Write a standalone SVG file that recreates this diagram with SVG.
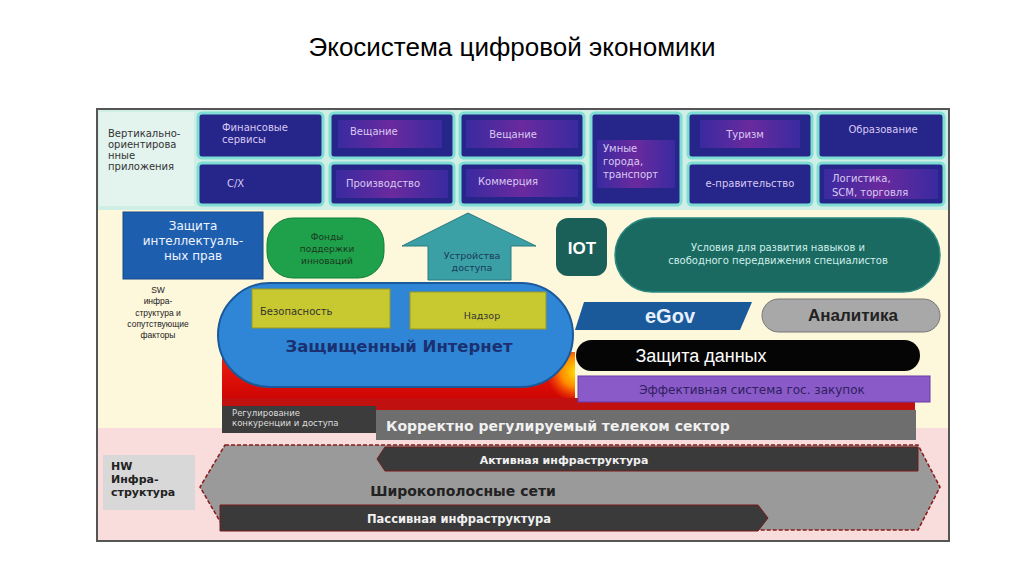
<svg xmlns="http://www.w3.org/2000/svg" width="1024" height="574" viewBox="0 0 1024 574">
<defs>
<style>
text{font-family:"Liberation Sans","DejaVu Sans",sans-serif}
.dv{font-family:"DejaVu Sans","Liberation Sans",sans-serif}
.tile{fill:#25258a;stroke:#7fded4;stroke-width:3}
.inner{fill:url(#purp)}
.tt{fill:#d9c9f2;font-size:10px;font-family:"DejaVu Sans",sans-serif}
.lbl{fill:#333;font-size:10px;font-family:"DejaVu Sans",sans-serif}
.w{fill:#fff}
</style>
<linearGradient id="purp" x1="0" y1="0" x2="1" y2="0">
<stop offset="0" stop-color="#3a2aa0"/><stop offset="0.5" stop-color="#6a2a9e"/><stop offset="1" stop-color="#3a2aa0"/>
</linearGradient>
<linearGradient id="fire" x1="0" y1="0" x2="0" y2="1">
<stop offset="0" stop-color="#f02010"/><stop offset="1" stop-color="#c80000"/>
</linearGradient>
<radialGradient id="glow" gradientUnits="userSpaceOnUse" cx="576" cy="372" r="30">
<stop offset="0" stop-color="#ffe000"/><stop offset="0.5" stop-color="#ff8a00"/><stop offset="1" stop-color="#ff5000" stop-opacity="0"/>
</radialGradient>
</defs>
<rect width="1024" height="574" fill="#fff"/>
<text x="512" y="56" text-anchor="middle" font-size="26" fill="#000">Экосистема цифровой экономики</text>

<g id="frame">
<rect x="97" y="109" width="852" height="432" fill="#fdf7dc" stroke="#555" stroke-width="2"/>
<rect x="98" y="110" width="850" height="100" fill="#cfeee6"/>
<rect x="98" y="428" width="850" height="112" fill="#f9dcdc"/>
</g>

<g id="vertical-label">
<rect x="99" y="112" width="95" height="94" fill="#e3f4ee"/>
<text class="lbl"><tspan x="108" y="137">Вертикально-</tspan><tspan x="108" y="148">ориентирова</tspan><tspan x="108" y="159">нные</tspan><tspan x="108" y="170">приложения</tspan></text>
</g>

<g id="tile-fin"><rect class="tile" x="198" y="113" width="125" height="45" rx="4"/><text class="tt" x="222" y="131">Финансовые<tspan x="222" y="143">сервисы</tspan></text></g>
<g id="tile-sh"><rect class="tile" x="198" y="163" width="125" height="42" rx="4"/><text class="tt" x="227" y="187">С/Х</text></g>
<g id="tile-vesh1"><rect class="tile" x="330" y="113" width="124" height="45" rx="4"/><rect class="inner" x="338" y="120" width="104" height="28"/><text class="tt" x="350" y="135">Вещание</text></g>
<g id="tile-prod"><rect class="tile" x="330" y="163" width="124" height="42" rx="4"/><rect class="inner" x="336" y="170" width="112" height="28"/><text class="tt" x="383" y="187" text-anchor="middle">Производство</text></g>
<g id="tile-vesh2"><rect class="tile" x="460" y="113" width="124" height="45" rx="4"/><rect class="inner" x="466" y="120" width="112" height="28"/><text class="tt" x="513" y="138" text-anchor="middle">Вещание</text></g>
<g id="tile-comm"><rect class="tile" x="460" y="163" width="124" height="42" rx="4"/><rect class="inner" x="466" y="169" width="112" height="28"/><text class="tt" x="478" y="185">Коммерция</text></g>
<g id="tile-smart"><rect class="tile" x="591" y="113" width="90" height="92" rx="4"/><rect class="inner" x="597" y="140" width="78" height="48"/><text class="tt" x="603" y="152">Умные<tspan x="603" y="165">города,</tspan><tspan x="603" y="178">транспорт</tspan></text></g>
<g id="tile-tour"><rect class="tile" x="688" y="113" width="124" height="45" rx="4"/><rect class="inner" x="700" y="120" width="100" height="28"/><text class="tt" x="745" y="138" text-anchor="middle">Туризм</text></g>
<g id="tile-egov"><rect class="tile" x="688" y="163" width="124" height="42" rx="4"/><text class="tt" x="750" y="187" text-anchor="middle">е-правительство</text></g>
<g id="tile-edu"><rect class="tile" x="818" y="113" width="126" height="45" rx="4"/><text class="tt" x="883" y="133" text-anchor="middle">Образование</text></g>
<g id="tile-log"><rect class="tile" x="818" y="163" width="126" height="42" rx="4"/><rect class="inner" x="824" y="169" width="114" height="30"/><text class="tt" x="832" y="182">Логистика,<tspan x="832" y="196">SCM, торговля</tspan></text></g>

<g id="sw-label"><text font-size="8.5" fill="#222" text-anchor="middle"><tspan x="158" y="293">SW</tspan><tspan x="158" y="304">инфра-</tspan><tspan x="158" y="316">структура и</tspan><tspan x="158" y="327">сопутствующие</tspan><tspan x="158" y="338">факторы</tspan></text></g>

<g id="ip"><rect x="123" y="212" width="140" height="67" fill="#1d5fae" stroke="#164a88"/><text class="dv" fill="#f0f4ff" font-size="12" text-anchor="middle"><tspan x="193" y="230">Защита</tspan><tspan x="193" y="245">интеллектуаль-</tspan><tspan x="193" y="260">ных прав</tspan></text></g>
<g id="funds"><rect x="267" y="218" width="117" height="60" rx="26" fill="#1fa04a" stroke="#138038"/><text class="dv" font-size="9" fill="#1a3a20" text-anchor="middle"><tspan x="327" y="240">Фонды</tspan><tspan x="327" y="252">поддержки</tspan><tspan x="327" y="264">инноваций</tspan></text></g>
<g id="devices"><path d="M468,213 L536,246 L511,246 L511,280 L428,280 L428,246 L402,246 Z" fill="#3aa0a6" stroke="#2a7a80"/><text class="dv" font-size="9.5" fill="#1a3a5a" text-anchor="middle"><tspan x="472" y="259">Устройства</tspan><tspan x="472" y="271">доступа</tspan></text></g>
<g id="iot"><rect x="556" y="218" width="51" height="58" rx="12" fill="#1a6058"/><text x="582" y="254" text-anchor="middle" font-size="17" font-weight="bold" fill="#fff">IOT</text></g>
<g id="skills"><rect x="615" y="218" width="325" height="74" rx="37" fill="#1a6a62" stroke="#2a8a80" stroke-width="1.5"/><text class="dv" font-size="10" fill="#cfeee8" text-anchor="middle"><tspan x="778" y="251">Условия для развития навыков и</tspan><tspan x="778" y="264">свободного передвижения специалистов</tspan></text></g>

<g id="fire-base"><rect x="222" y="352" width="353" height="55" fill="url(#fire)"/><rect x="222" y="352" width="353" height="55" fill="url(#glow)"/></g>
<g id="internet"><rect x="218" y="283" width="355" height="104" rx="52" fill="#2f86d6" stroke="#1a5a9a" stroke-width="2"/>
<rect x="252" y="289" width="138" height="39" fill="#c8c830" stroke="#9a9a20"/><text class="dv" x="260" y="315" font-size="10" fill="#333">Безопасность</text>
<rect x="410" y="292" width="136" height="37" fill="#c8c830" stroke="#9a9a20"/><text class="dv" x="482" y="319" font-size="9.5" fill="#333" text-anchor="middle">Надзор</text>
<text class="dv" x="399" y="352" text-anchor="middle" font-size="16.5" font-weight="bold" fill="#1a3070">Защищенный Интернет</text></g>

<g id="egov"><path d="M584,302 L752,302 L740,330 L575,330 Z" fill="#1a5a9a"/><text x="670" y="323" text-anchor="middle" font-size="20" font-weight="bold" fill="#e8f0ff">eGov</text></g>
<g id="analytics"><rect x="762" y="299" width="178" height="33" rx="16.5" fill="#a8a8a8" stroke="#777"/><text x="853" y="321" text-anchor="middle" font-size="17" font-weight="bold" fill="#222">Аналитика</text></g>
<g id="data"><rect x="576" y="340" width="344" height="31" rx="15.5" fill="#050505"/><text x="701" y="362" text-anchor="middle" font-size="18" fill="#fff">Защита данных</text></g>
<g id="procure"><rect x="222" y="398" width="693" height="12" fill="#c01010"/><rect x="578" y="376" width="352" height="26" fill="#8a5ac8" stroke="#6a3aa8"/><text class="dv" x="752" y="394" text-anchor="middle" font-size="12" fill="#302060">Эффективная система гос. закупок</text></g>

<g id="telecom"><rect x="376" y="410" width="540" height="30" fill="#6e6e6e"/><text class="dv" x="386" y="431" font-size="14" font-weight="bold" fill="#f0f0f0">Корректно регулируемый телеком сектор</text></g>
<g id="regulation"><rect x="222" y="406" width="154" height="27" fill="#3c3c3c"/><text class="dv" font-size="8.5" fill="#ddd"><tspan x="232" y="416">Регулирование</tspan><tspan x="232" y="426">конкуренции и доступа</tspan></text></g>

<g id="hw-label"><rect x="103" y="455" width="92" height="55" fill="#d8d8d8"/><text class="dv" font-size="11" font-weight="bold" fill="#222"><tspan x="111" y="470">HW</tspan><tspan x="111" y="483">Инфра-</tspan><tspan x="111" y="496">структура</tspan></text></g>

<g id="broadband"><path d="M225,445 L918,445 L940,487 L918,530 L225,530 L200,487 Z" fill="#9a9a9a" stroke="#8a1a1a" stroke-width="1.5" stroke-dasharray="4,2"/>
<text class="dv" x="463" y="496" text-anchor="middle" font-size="14" font-weight="bold" fill="#222">Широкополосные сети</text></g>
<g id="active"><path d="M385,447 L918,447 L918,471 L385,471 L377,459 Z" fill="#3a3a3a" stroke="#7a1a1a"/><text class="dv" x="564" y="464" text-anchor="middle" font-size="11" font-weight="bold" fill="#f0f0f0">Активная инфраструктура</text></g>
<g id="passive"><path d="M220,505 L758,505 L768,518 L758,531 L220,531 Z" fill="#3a3a3a" stroke="#7a1a1a"/><text class="dv" x="459" y="523" text-anchor="middle" font-size="11.5" font-weight="bold" fill="#f0f0f0">Пассивная инфраструктура</text></g>
</svg>
